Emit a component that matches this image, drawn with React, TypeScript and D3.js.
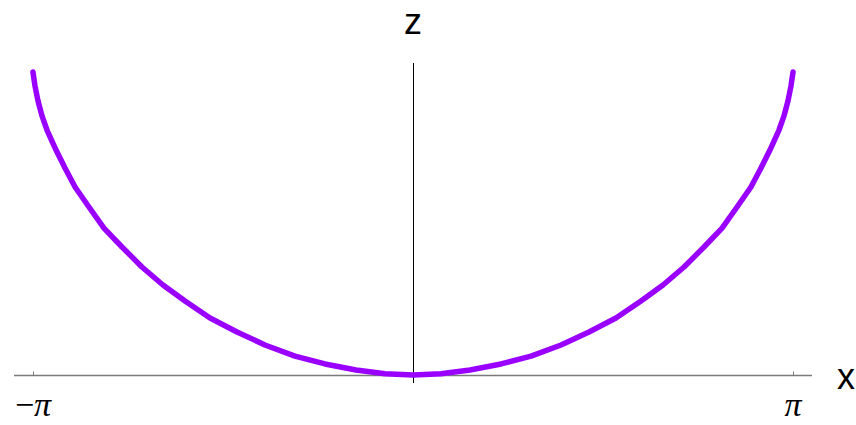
import React from "react";
import * as d3 from "d3";

// Curve samples (x, z), read along the arc from −π to π
const xValues = [
  -3.142, -3.125, -3.1, -3.067, -3.026, -2.951, -2.877, -2.794, -2.679, -2.555,
  -2.406, -2.241, -2.067, -1.885, -1.678, -1.455, -1.224, -0.976, -0.728, -0.471,
  -0.231, 0, 0.231, 0.471, 0.728, 0.976, 1.224, 1.455, 1.678, 1.885,
  2.067, 2.241, 2.406, 2.555, 2.679, 2.794, 2.877, 2.951, 3.026, 3.067,
  3.1, 3.125, 3.142,
];
const zValues = [
  2.0, 1.908, 1.809, 1.71, 1.617, 1.485, 1.366, 1.241, 1.109, 0.97,
  0.845, 0.713, 0.594, 0.488, 0.376, 0.284, 0.198, 0.125, 0.073, 0.033,
  0.008, 0, 0.008, 0.033, 0.073, 0.125, 0.198, 0.284, 0.376, 0.488,
  0.594, 0.713, 0.845, 0.97, 1.109, 1.241, 1.366, 1.485, 1.617, 1.71,
  1.809, 1.908, 2.0,
];
const xTicks = [-Math.PI, Math.PI];
const xTickLabels = ["−π", "π"];

const W = 856;
const H = 425;

export default function App() {
  const x = d3.scaleLinear().domain([-Math.PI, Math.PI]).range([33, 793]);
  const z = d3.scaleLinear().domain([0, 2]).range([375, 72]);

  const pts: [number, number][] = xValues.map((v, i) => [v, zValues[i]]);
  const line = d3
    .line<[number, number]>()
    .x((d) => x(d[0]))
    .y((d) => z(d[1]));

  const x0 = x(0) + 0.5;
  const zBase = z(0) + 0.5;
  const serif = "'Liberation Serif', 'DejaVu Serif', serif";
  const sans = "'Liberation Sans', Arial, sans-serif";

  return (
    <svg
      width={W}
      height={H}
      style={{ position: "absolute", left: 0, top: 0, background: "#fff" }}
    >
      {/* horizontal axis */}
      <line x1={14} x2={812} y1={zBase} y2={zBase} stroke="#7a7a7a" strokeWidth={1.5} />
      {xTicks.map((t, i) => (
        <g key={i}>
          <line
            x1={x(t) + 0.5}
            x2={x(t) + 0.5}
            y1={zBase}
            y2={zBase - 4}
            stroke="#7a7a7a"
            strokeWidth={1}
          />
          <text
            x={x(t)}
            y={416}
            textAnchor="middle"
            fontFamily={serif}
            fontSize={34}
            fill="#000"
          >
            {xTickLabels[i].startsWith("−") ? (
              <>
                <tspan>−</tspan>
                <tspan fontStyle="italic">π</tspan>
              </>
            ) : (
              <tspan fontStyle="italic">{xTickLabels[i]}</tspan>
            )}
          </text>
        </g>
      ))}
      {/* vertical axis */}
      <line x1={x0} x2={x0} y1={63} y2={383} stroke="#000" strokeWidth={1} />

      <path
        d={line(pts) ?? ""}
        fill="none"
        stroke="#9900ff"
        strokeWidth={5.5}
        strokeLinejoin="round"
        strokeLinecap="round"
      />

      <text x={413} y={34} textAnchor="middle" fontFamily={sans} fontSize={36} fill="#000">
        z
      </text>
      <text x={846} y={389} textAnchor="middle" fontFamily={sans} fontSize={36} fill="#000">
        x
      </text>
    </svg>
  );
}
